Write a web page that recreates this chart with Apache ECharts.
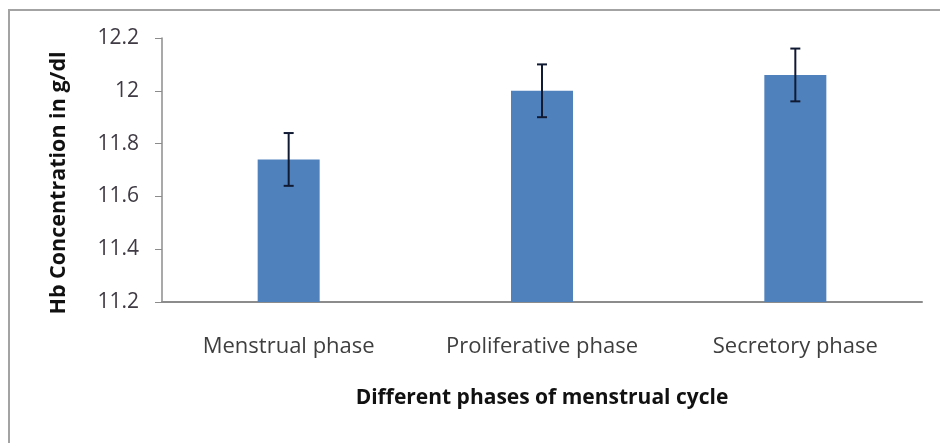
<!DOCTYPE html>
<html>
<head>
<meta charset="utf-8">
<script src="https://cdn.jsdelivr.net/npm/echarts@6/dist/echarts.min.js"></script>
<style>
  html, body {margin: 0; padding: 0; background: #fff;}
  #chart {width: 940px; height: 443px;}
</style>
</head>
<body>
<div id="chart"></div>
<script>
//  分类
const phases = ['Menstrual phase', 'Proliferative phase', 'Secretory phase'];
//  平均值
const hbMeans = [11.74, 12.0, 12.06];
//  误差
const hbErrors = [0.1, 0.1, 0.1];

const fontName = '"Open Sans", sans-serif';

function hbChartFn() {
    const myChart = echarts.init(document.getElementById('chart'));
    myChart.setOption({
        animation: false,
        //  外框
        graphic: [
            {
                type: 'rect',
                shape: {x: 9, y: 10, width: 1000, height: 1000},
                style: {fill: 'none', stroke: '#a3a3a3', lineWidth: 2},
                silent: true,
            }
        ],
        grid: {
            left: 162,
            right: 18,
            top: 38,
            bottom: 141,
        },
        xAxis: {
            type: 'category',
            data: phases,
            name: 'Different phases of menstrual cycle',
            nameLocation: 'middle',
            nameGap: 86,
            nameTextStyle: {
                color: '#111',
                fontFamily: fontName,
                fontSize: 21,
                fontWeight: 'bold',
            },
            axisLine: {lineStyle: {color: '#8c8c8c', width: 2}},
            axisTick: {show: false},
            axisLabel: {
                color: '#3f3f3f',
                fontFamily: fontName,
                fontSize: 22,
                margin: 34,
            },
        },
        yAxis: {
            type: 'value',
            min: 11.2,
            max: 12.2,
            interval: 0.2,
            name: 'Hb Concentration in g/dl',
            nameLocation: 'middle',
            nameGap: 92,
            nameTextStyle: {
                color: '#111',
                fontFamily: fontName,
                fontSize: 21.5,
                fontWeight: 'bold',
                //  标题略偏下
                padding: [0, 26, 0, 0],
            },
            axisLine: {show: true, lineStyle: {color: '#8c8c8c', width: 1.5}},
            axisTick: {show: true, length: 7, lineStyle: {color: '#8c8c8c'}},
            splitLine: {show: false},
            axisLabel: {
                color: '#3f3a44',
                fontFamily: fontName,
                fontSize: 21,
                margin: 23,
            },
        },
        series: [
            {
                type: 'bar',
                data: hbMeans,
                barWidth: 62,
                itemStyle: {color: '#4f81bd'},
            },
            {
                //  误差线
                type: 'custom',
                z: 5,
                data: hbMeans.map((v, i) => [i, v - hbErrors[i], v + hbErrors[i]]),
                renderItem: function (params, api) {
                    const lo = api.coord([api.value(0), api.value(1)]);
                    const hi = api.coord([api.value(0), api.value(2)]);
                    const cap = 5;
                    const style = {stroke: '#111a33', lineWidth: 2};
                    return {
                        type: 'group',
                        children: [
                            {type: 'line', shape: {x1: hi[0], y1: hi[1], x2: lo[0], y2: lo[1]}, style: style},
                            {type: 'line', shape: {x1: hi[0] - cap, y1: hi[1], x2: hi[0] + cap, y2: hi[1]}, style: style},
                            {type: 'line', shape: {x1: lo[0] - cap, y1: lo[1], x2: lo[0] + cap, y2: lo[1]}, style: style},
                        ]
                    };
                },
            }
        ],
    });
}

hbChartFn();
</script>
</body>
</html>
